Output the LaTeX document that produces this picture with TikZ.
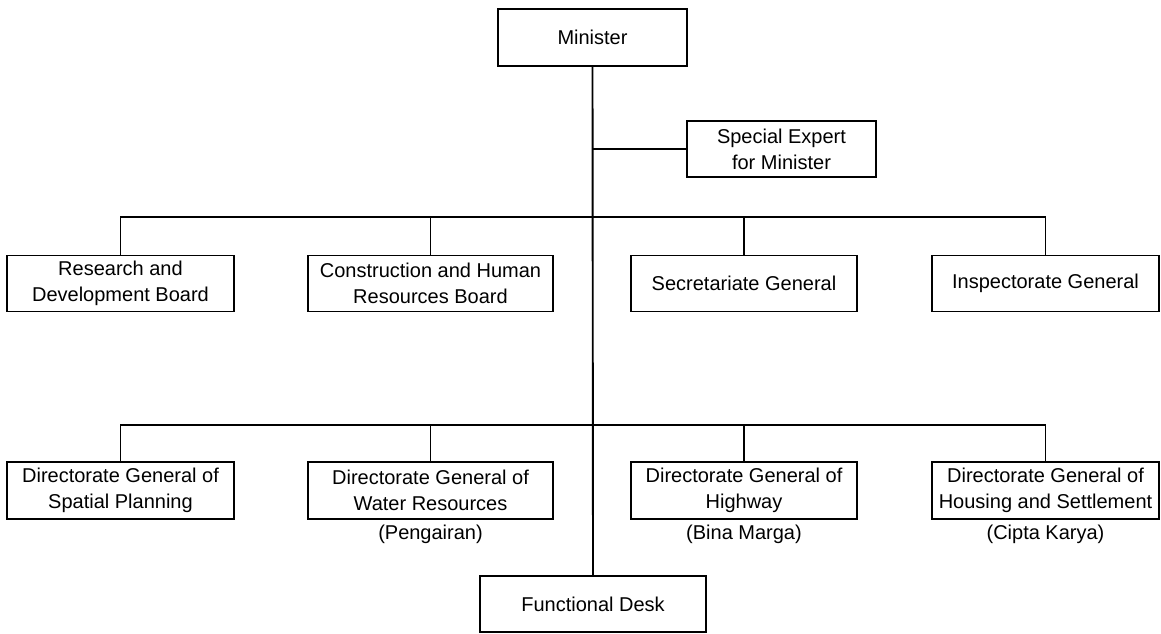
\documentclass[tikz,border=0pt]{standalone}
\usepackage{fontspec}
\setmainfont{Liberation Sans}
\begin{document}
\begin{tikzpicture}[x=1pt,y=-1pt,
  box/.style={draw,line width=1.9pt,inner sep=0pt,minimum height=56pt,align=center,
    font=\fontsize{20}{26}\selectfont},
  sub/.style={inner sep=0pt,font=\fontsize{20}{26}\selectfont},
  conn/.style={line width=1.9pt}]
\useasboundingbox (0,0) rectangle (1161,633);
\node[box,minimum width=189pt,minimum height=57pt] (min) at (592.5,37.5) {Minister};
\node[box,minimum width=189pt] (sp) at (781.5,149) {Special Expert\\for Minister};
\node[box,minimum width=227pt] (rd) at (120.5,283.5) {Research and\\Development Board};
\node[box,minimum width=245pt] (ch) at (430.5,283.5) {Construction and Human\\Resources Board};
\node[box,minimum width=226pt] (sg) at (744,283.5) {Secretariate General};
\node[box,minimum width=227pt] (ig) at (1045.5,283.5) {Inspectorate General};
\node[box,minimum width=227pt,minimum height=57pt] (dsp) at (120.5,490.5) {Directorate General of\\Spatial Planning};
\node[box,minimum width=245pt,minimum height=57pt] (dwr) at (430.5,490.5) {Directorate General of\\Water Resources};
\node[box,minimum width=226pt,minimum height=57pt] (dhw) at (744,490.5) {Directorate General of\\Highway};
\node[box,minimum width=227pt,minimum height=57pt] (dhs) at (1045.5,490.5) {Directorate General of\\Housing and Settlement};
\node[sub] (pw) at (430.5,534) {(Pengairan)};
\node[sub] (pb) at (744,534) {(Bina Marga)};
\node[sub] (pc) at (1045.5,534) {(Cipta Karya)};
\node[box,minimum width=226pt] (fd) at (593,604) {Functional Desk};
\coordinate (h1) at (593,217);
\coordinate (h2) at (593,425);
\coordinate (hs) at (593,149);
\draw[conn] (min.south) -- (fd.north);
\draw[conn] (hs) -- (sp.west);
\draw[conn] (rd.north) |- (h1) -| (ig.north);
\draw[conn] (ch.north) -- (ch.north |- h1);
\draw[conn] (sg.north) -- (sg.north |- h1);
\draw[conn] (dsp.north) |- (h2) -| (dhs.north);
\draw[conn] (dwr.north) -- (dwr.north |- h2);
\draw[conn] (dhw.north) -- (dhw.north |- h2);
\end{tikzpicture}
\end{document}
